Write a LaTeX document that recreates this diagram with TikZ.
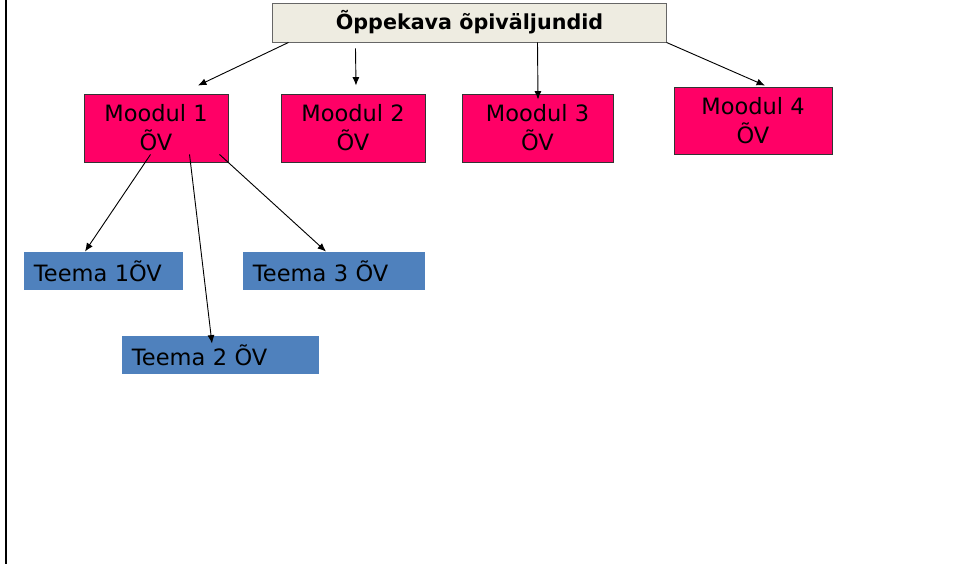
\documentclass[tikz,border=0pt]{standalone}
\usepackage{fontspec}
\setmainfont{DejaVu Sans}
\usetikzlibrary{calc,arrows.meta}
\definecolor{roosa}{HTML}{FF0066}
\definecolor{sinine}{HTML}{4F81BD}
\definecolor{beez}{HTML}{EEECE1}

\begin{document}
\begin{tikzpicture}[x=0.025cm, y=-0.025cm, >={Latex[length=6pt,width=5pt]}, line width=0.65pt,
  pealkiri/.style={draw=gray!80!black, fill=beez, minimum width=9.825cm, minimum height=0.975cm, font=\fontsize{14.7}{17}\selectfont\bfseries},
  moodul/.style={draw=black!80, fill=roosa, align=center, minimum height=1.7cm, inner sep=0pt, font=\fontsize{16}{20.5}\selectfont},
  teema/.style={fill=sinine, align=left, minimum height=0.95cm, inner xsep=0.25cm, inner ysep=0pt, font=\fontsize{16}{20}\selectfont}]
\useasboundingbox (0,0) rectangle (958,564);
\draw[line width=1.5pt] (6,0) -- (6,564);
% ylemine tase
\node[pealkiri] (title) at (469.5,22.5) {Õppekava õpiväljundid};
\node[moodul, minimum width=3.6cm] (m1) at (156,128) {Moodul 1\\ÕV};
\node[moodul, minimum width=3.6cm] (m2) at (353,128) {Moodul 2\\ÕV};
\node[moodul, minimum width=3.775cm] (m3) at (537.5,128) {Moodul 3\\ÕV};
\node[moodul, minimum width=3.95cm, minimum height=1.675cm] (m4) at (753,120.5) {Moodul 4\\ÕV};
% teemad
\node[teema, text width=3.475cm] (t1) at (103.5,271) {Teema 1ÕV};
\node[teema, text width=4.05cm] (t3) at (334,271) {Teema 3 ÕV};
\node[teema, text width=4.425cm] (t2) at (220.5,355) {Teema 2 ÕV};
% nooled
\draw[->] ($(title.south west)+(16,0)$) -- ($(m1.north)+(42,-8)$);
\draw[->] ($(title.south west)+(83,6)$) -- ($(m2.north)+(3,-8)$);
\draw[->] ($(title.south west)+(265,0)$) -- ($(m3.north)+(0.5,6)$);
\draw[->] (title.south east) -- ($(m4.north)+(12,-1)$);
\draw[->] ($(m1.south west)+(67,-8)$) -- ($(t1.north)+(-18.5,0)$);
\draw[->] ($(m1.south west)+(106,-8)$) -- ($(t2.north)+(-8.5,8)$);
\draw[->] ($(m1.south west)+(136,-8)$) -- ($(t3.north)+(-8,0)$);
\end{tikzpicture}
\end{document}
